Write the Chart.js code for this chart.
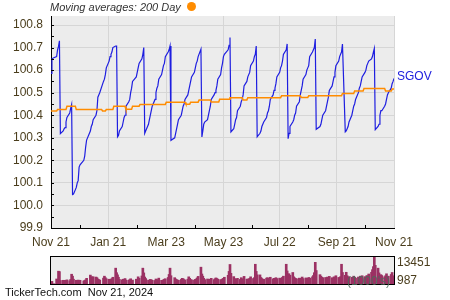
<!DOCTYPE html>
<html>
<head>
<meta charset="utf-8">
<script src="https://cdn.jsdelivr.net/npm/chart.js@4/dist/chart.umd.min.js"></script>
<style>
  html, body { margin: 0; padding: 0; background: #fff; }
  #wrap { position: relative; width: 450px; height: 300px; overflow: hidden; font-family: "Liberation Sans", Arial, sans-serif; }
  #main { position: absolute; left: 0; top: 0; }
  #vol { position: absolute; left: 0; top: 250px; }
  #title { position: absolute; left: 50px; top: 1px; font-style: italic; font-size: 11px; color: #333; white-space: nowrap; }
  #dot { position: absolute; left: 187px; top: 2px; width: 9px; height: 9px; border-radius: 50%; background: #ff8c00; }
  #footer { position: absolute; left: 5px; top: 286px; font-size: 11px; color: #111; white-space: pre; }
  #units { position: absolute; left: 347px; top: 274px; font-size: 12px; color: rgba(70,110,90,0.85); white-space: nowrap; }
</style>
</head>
<body>
<div id="wrap">
  <canvas id="main" width="450" height="250"></canvas>
  <canvas id="vol" width="450" height="50"></canvas>
  <div id="title">Moving averages: 200 Day</div>
  <div id="dot"></div>
  <div id="units">(1000's)</div>
  <div id="footer">TickerTech.com  Nov 21, 2024</div>
</div>
<script>
// ---- DATA ----
// trading days, as days since Nov 21, 2023
const tradingDay = [
  0,1,3,6,7,8,9,
  10,13,14,15,16,17,20,21,22,23,24,27,28,29,30,31,35,36,37,38,
  42,43,44,45,48,49,50,51,52,56,57,58,59,62,63,64,65,66,69,70,71,
  72,73,76,77,78,79,80,83,84,85,86,87,91,92,93,94,97,98,99,100,
  101,104,105,106,107,108,111,112,113,114,115,118,119,120,121,122,125,126,127,128,
  132,133,134,135,136,139,140,141,142,143,146,147,148,149,150,153,154,155,156,157,160,161,
  162,163,164,167,168,169,170,171,174,175,176,177,178,181,182,183,184,185,189,190,191,192,
  195,196,197,198,199,202,203,204,205,206,209,210,212,213,216,217,218,219,220,
  223,224,225,227,230,231,232,233,234,237,238,239,240,241,244,245,246,247,248,251,252,253,
  254,255,258,259,260,261,262,265,266,267,268,269,272,273,274,275,276,279,280,281,282,283,
  287,288,289,290,293,294,295,296,297,300,301,302,303,304,307,308,309,310,311,314,
  315,316,317,318,321,322,323,324,325,328,329,330,331,332,335,336,337,338,339,342,343,344,345,
  346,349,350,351,352,353,356,357,358,359,360,363,364,365,366
];
// SGOV closing price
const closePrice = [
  100.585,100.65,100.655,100.66,100.69,100.705,100.73,
  100.318,100.33,100.34,100.345,100.37,100.39,100.41,100.43,100.447,
  100.048,100.05,100.08,100.10,100.11,100.17,100.18,100.20,100.22,100.26,100.29,
  100.33,100.35,100.36,100.38,100.40,100.42,100.48,100.49,100.50,100.55,100.56,100.58,100.61,100.64,100.66,100.67,100.68,100.70,100.707,100.707,100.304,
  100.31,100.33,100.35,100.37,100.39,100.40,100.44,100.46,100.47,100.50,100.52,100.55,100.57,100.59,100.61,100.63,100.65,100.67,100.70,100.32,
  100.33,100.36,100.38,100.40,100.42,100.44,100.47,100.50,100.52,100.53,100.56,100.58,100.60,100.62,100.63,100.66,100.68,100.69,100.707,100.289,
  100.30,100.32,100.34,100.36,100.38,100.40,100.42,100.44,100.45,100.47,100.49,100.51,100.53,100.55,100.57,100.59,100.61,100.63,100.64,100.66,100.693,100.304,
  100.33,100.36,100.37,100.38,100.40,100.42,100.44,100.47,100.49,100.50,100.51,100.53,100.56,100.58,100.61,100.63,100.66,100.67,100.69,100.71,100.745,100.326,
  100.34,100.36,100.38,100.39,100.42,100.44,100.46,100.47,100.49,100.53,100.55,100.57,100.59,100.62,100.64,100.66,100.67,100.707,100.304,
  100.32,100.33,100.35,100.37,100.39,100.41,100.42,100.44,100.47,100.49,100.51,100.52,100.54,100.57,100.59,100.61,100.62,100.64,100.67,100.69,100.716,100.296,
  100.32,100.35,100.37,100.38,100.40,100.41,100.44,100.46,100.49,100.51,100.53,100.56,100.58,100.60,100.61,100.62,100.66,100.68,100.69,100.70,100.738,100.338,
  100.35,100.36,100.38,100.40,100.42,100.44,100.46,100.48,100.51,100.53,100.55,100.57,100.59,100.62,100.64,100.66,100.67,100.68,100.716,100.326,
  100.33,100.34,100.35,100.37,100.40,100.42,100.44,100.45,100.47,100.50,100.52,100.53,100.55,100.57,100.59,100.60,100.62,100.63,100.64,100.65,100.66,100.68,100.696,
  100.336,100.35,100.36,100.40,100.42,100.42,100.44,100.45,100.47,100.49,100.50,100.52,100.54,100.55,100.563
];
// daily volume (1000's)
const volume = [
  1500,2200,1100,3300,2900,6900,6700,
  2600,2700,2500,2700,2600,2900,2500,3100,5500,4600,3200,2700,2600,2800,2500,2700,2400,2600,2900,3600,
  5100,4200,4300,4300,4200,3900,3300,3000,2800,3700,4600,3900,3400,3200,3100,2900,3500,4100,8300,6200,5200,
  4100,3100,2900,3200,2700,3500,2800,2700,3000,3400,2600,2800,3200,3000,4300,3600,4700,8300,6100,4200,
  3500,2800,2600,3100,2900,2700,2600,3300,3000,2800,3700,2700,2500,2900,3200,3400,4000,5400,8300,4800,
  3900,3300,3000,2800,2700,3100,3600,3400,3000,2800,3200,4300,3600,3000,2900,2800,3100,3300,3800,4500,8750,5600,
  4600,3600,3000,3300,3100,2800,3200,3600,3000,3400,3800,3500,3200,3000,2900,3300,3600,4100,5000,6800,10000,5900,
  4400,3500,3200,3000,3600,3100,3900,3400,3000,4500,3200,3300,3600,4300,3500,3900,10100,6800,5200,
  5200,4000,3500,3200,3700,3900,3400,3500,4100,3300,3600,3200,3900,3500,3700,3300,3600,4100,4600,10100,7000,5600,
  5700,5000,6300,4300,3800,3500,3400,3700,3600,3300,4200,3500,3800,3600,3400,4000,3700,4300,4900,6200,11000,7200,
  5300,4600,4100,3900,4000,3700,4200,3800,4500,3900,3600,4300,4100,4800,4000,3900,4400,10100,6300,5000,
  6400,4800,4200,4300,4100,3800,4600,4100,3700,4200,4000,4600,4300,4800,4400,4000,4900,4300,5600,6400,7600,9000,13451,
  9600,8300,6100,4600,5300,4900,4300,4800,5700,4200,4600,5400,6300,4800,1600
];
// 200-day moving average (change points, days since Nov 21, 2023)
const maDay = [0,6,7,16,17,26,27,54,55,58,59,66,67,79,80,86,87,94,95,122,123,143,144,148,149,157,158,170,171,179,180,190,191,204,205,209,210,245,246,266,267,274,275,310,311,323,324,333,334,356,357,363,364,366];
const maValue = [100.419,100.419,100.425,100.425,100.44,100.44,100.425,100.425,100.419,100.419,100.425,100.425,100.44,100.44,100.426,100.426,100.44,100.44,100.448,100.448,100.458,100.458,100.449,100.449,100.458,100.458,100.467,100.467,100.459,100.459,100.471,100.471,100.478,100.478,100.468,100.468,100.478,100.478,100.486,100.486,100.479,100.479,100.486,100.486,100.496,100.496,100.507,100.507,100.519,100.519,100.507,100.507,100.516,100.516];

const xTickDays = [0,61,123,184,244,305,366];
const xTickLabels = ['Nov 21','Jan 21','Mar 23','May 23','Jul 22','Sep 21','Nov 21'];
const yTicks = [99.9,100.0,100.1,100.2,100.3,100.4,100.5,100.6,100.7,100.8];
const volTicks = [987,13451];
const seriesName = 'SGOV';

// ---- STYLE ----
const FONT = '"Liberation Sans", Arial, sans-serif';
const LABEL = '#4a3d1c';
const GRID = '#d6d6d6';
const PLOTBG = '#ececec';

const mainDeco = {
  id: 'mainDeco',
  beforeDraw(c) {
    const a = c.chartArea, g = c.ctx;
    g.save(); g.fillStyle = PLOTBG;
    g.fillRect(a.left, a.top, a.right - a.left, a.bottom - a.top);
    g.restore();
  },
  afterDraw(c) {
    const a = c.chartArea, g = c.ctx, xs = c.scales.x, ys = c.scales.y;
    g.save();
    g.strokeStyle = '#000'; g.lineWidth = 1;
    g.beginPath();
    for (let i = 0; i < yTicks.length; i++) {
      const vals = [yTicks[i]];
      if (i < yTicks.length - 1) vals.push((yTicks[i] + yTicks[i + 1]) / 2);
      vals.forEach(v => {
        const y = Math.round(ys.getPixelForValue(v)) + 0.5;
        g.moveTo(a.left, y); g.lineTo(a.left + 3, y);
      });
    }
    for (let i = 0; i < xTickDays.length - 1; i++) {
      const x = Math.round(xs.getPixelForValue((xTickDays[i] + xTickDays[i + 1]) / 2)) + 0.5;
      g.moveTo(x, a.bottom); g.lineTo(x, a.bottom - 3);
    }
    g.stroke();
    // series label
    const last = closePrice[closePrice.length - 1];
    g.fillStyle = '#2020dd';
    g.font = '12px ' + FONT;
    g.textBaseline = 'middle'; g.textAlign = 'left';
    g.fillText(seriesName, a.right + 3, ys.getPixelForValue(last) - 1.5);
    g.restore();
  }
};

new Chart(document.getElementById('main'), {
  type: 'line',
  data: {
    datasets: [
      { label: '200 Day', data: maDay.map((d, i) => ({ x: d, y: maValue[i] })),
        borderColor: '#ff8c00', borderWidth: 1.5, pointRadius: 0, tension: 0, fill: false },
      { label: seriesName, data: tradingDay.map((d, i) => ({ x: d, y: closePrice[i] })),
        borderColor: '#1e1ee0', borderWidth: 1.2, pointRadius: 0, tension: 0, fill: false }
    ]
  },
  options: {
    responsive: false, animation: false, devicePixelRatio: 1,
    layout: { padding: { top: 16, right: 56, left: 0, bottom: 0 } },
    plugins: { legend: { display: false }, tooltip: { enabled: false } },
    scales: {
      x: {
        type: 'linear', min: 0, max: 366,
        afterBuildTicks: s => { s.ticks = xTickDays.map(v => ({ value: v })); },
        afterFit: s => { s.height = 22; },
        grid: { color: GRID, drawTicks: false },
        border: { color: '#000', width: 1 },
        ticks: { autoSkip: false, maxRotation: 0, padding: 7, color: LABEL,
          font: { size: 12, family: FONT }, callback: (v, i) => xTickLabels[i] }
      },
      y: {
        min: 99.9, max: 100.84,
        afterBuildTicks: s => { s.ticks = yTicks.map(v => ({ value: v })); },
        afterFit: s => { s.width = 51; },
        grid: { color: GRID, drawTicks: false },
        border: { color: '#000', width: 1 },
        ticks: { padding: 8, color: LABEL, font: { size: 12, family: FONT },
          callback: v => Number(v).toFixed(1) }
      }
    }
  },
  plugins: [mainDeco]
});

const volDeco = {
  id: 'volDeco',
  beforeDraw(c) {
    const a = c.chartArea, g = c.ctx;
    g.save(); g.fillStyle = PLOTBG;
    g.fillRect(a.left, a.top, a.right - a.left, a.bottom - a.top);
    g.restore();
  },
  afterDraw(c) {
    const a = c.chartArea, g = c.ctx, ys = c.scales.y;
    g.save();
    g.strokeStyle = '#000'; g.lineWidth = 1;
    g.strokeRect(a.left - 0.5, a.top - 0.5, a.right - a.left + 1, a.bottom - a.top + 1);
    g.fillStyle = LABEL; g.font = '12px ' + FONT;
    g.textBaseline = 'middle'; g.textAlign = 'left';
    g.fillText(String(volTicks[1]), a.right + 3, ys.getPixelForValue(volTicks[1]) + 6);
    g.fillText(String(volTicks[0]), a.right + 3, ys.getPixelForValue(volTicks[0]) - 3);
    g.restore();
  }
};

new Chart(document.getElementById('vol'), {
  type: 'bar',
  data: {
    datasets: [{ data: tradingDay.map((d, i) => ({ x: d, y: volume[i] })),
      backgroundColor: '#9b3163', borderWidth: 0, barThickness: 2 }]
  },
  options: {
    responsive: false, animation: false, devicePixelRatio: 1,
    layout: { padding: { top: 7, right: 56, left: 51, bottom: 16 } },
    plugins: { legend: { display: false }, tooltip: { enabled: false } },
    scales: {
      x: { type: 'linear', min: 0, max: 366, offset: false, display: false },
      y: { min: volTicks[0], max: volTicks[1], display: false }
    }
  },
  plugins: [volDeco]
});
</script>
</body>
</html>
